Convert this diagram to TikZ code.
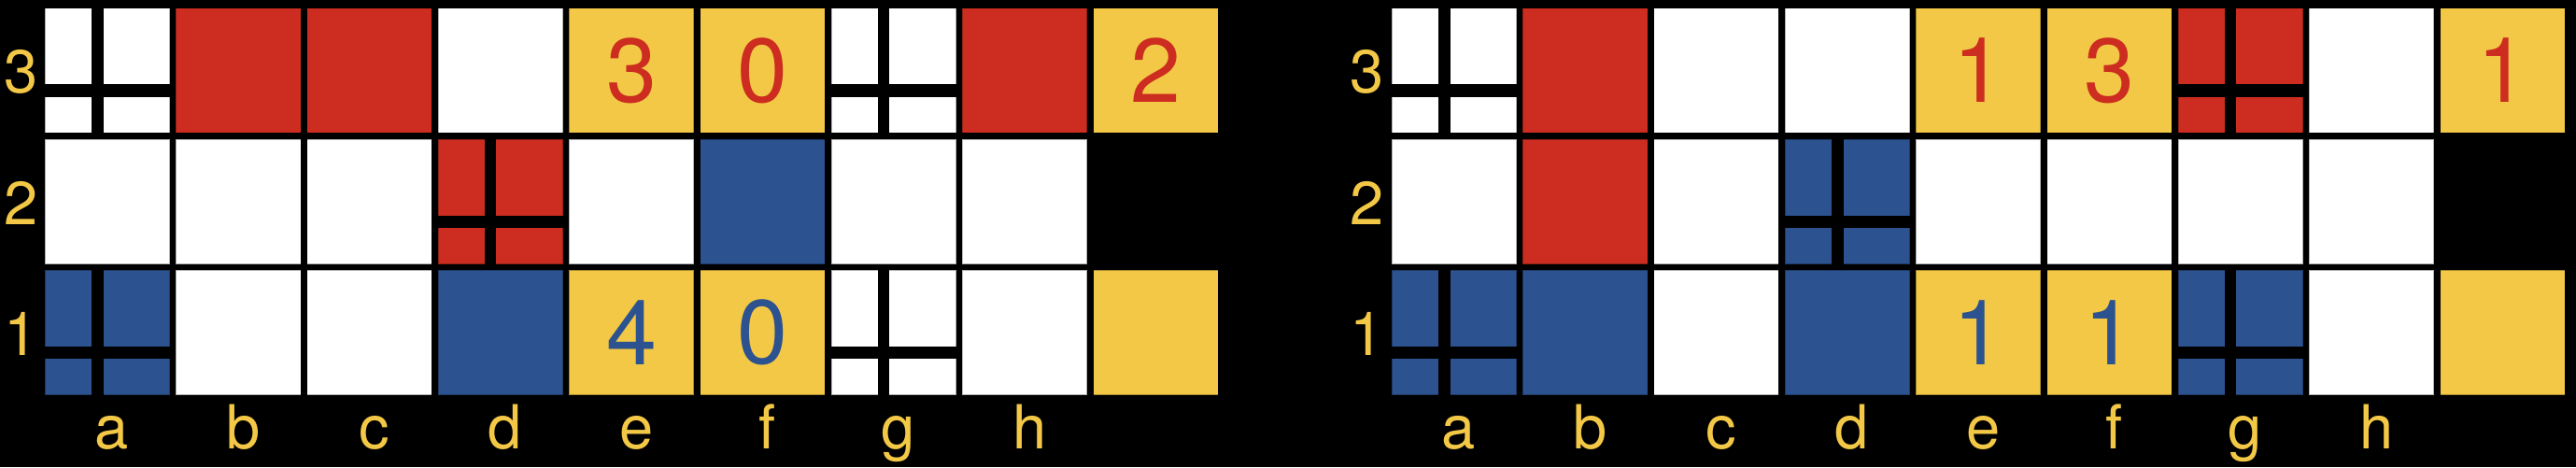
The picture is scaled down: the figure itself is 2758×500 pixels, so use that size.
\documentclass[tikz,border=0pt]{standalone}
\usepackage{fontspec}
\setmainfont{TeX Gyre Heros}
\definecolor{mred}{HTML}{CC2D20}
\definecolor{mblue}{HTML}{2C5290}
\definecolor{myellow}{HTML}{F3C846}

\begin{document}
\begin{tikzpicture}[x=0.01cm,y=-0.01cm]
        \tikzstyle{cell}=[rectangle,draw=black,draw opacity=0.3,line width=0.35pt,minimum size=1.336cm,inner sep=0pt,font=\fontsize{27.6}{30}\selectfont]
        \tikzstyle{wcell}=[fill=white]
        \tikzstyle{rcell}=[fill=mred]
        \tikzstyle{bcell}=[fill=mblue]
        \tikzstyle{yred}=[fill=myellow,text=mred]
        \tikzstyle{yblue}=[fill=myellow,text=mblue]
        \tikzstyle{lab}=[text=myellow,inner sep=0pt,font=\fontsize{18.5}{20}\selectfont]
          \fill [black] (0,0) rectangle (2758,500);
          \useasboundingbox (0,0) rectangle (2758,500);
          % left board
          \foreach \col/\i/\kind/\num in {a/0/wcell/{},b/1/rcell/{},c/2/rcell/{},d/3/wcell/{},e/4/yred/3,f/5/yred/0,g/6/wcell/{},h/7/rcell/{},i/8/yred/2}
            \node (L\col3) at (115+140.3*\i,75.5) [cell,\kind] {\num};
          \foreach \col/\i/\kind in {a/0/wcell,b/1/wcell,c/2/wcell,d/3/rcell,e/4/wcell,f/5/bcell,g/6/wcell,h/7/wcell}
            \node (L\col2) at (115+140.3*\i,215.8) [cell,\kind] {};
          \foreach \col/\i/\kind/\num in {a/0/bcell/{},b/1/wcell/{},c/2/wcell/{},d/3/bcell/{},e/4/yblue/4,f/5/yblue/0,g/6/wcell/{},h/7/wcell/{},i/8/yblue/{}}
            \node (L\col1) at (115+140.3*\i,356.1) [cell,\kind] {\num};
          % right board
          \foreach \col/\i/\kind/\num in {a/0/wcell/{},b/1/rcell/{},c/2/wcell/{},d/3/wcell/{},e/4/yred/1,f/5/yred/3,g/6/rcell/{},h/7/wcell/{},i/8/yred/1}
            \node (R\col3) at (1557+140.3*\i,75.5) [cell,\kind] {\num};
          \foreach \col/\i/\kind in {a/0/wcell,b/1/rcell,c/2/wcell,d/3/bcell,e/4/wcell,f/5/wcell,g/6/wcell,h/7/wcell}
            \node (R\col2) at (1557+140.3*\i,215.8) [cell,\kind] {};
          \foreach \col/\i/\kind/\num in {a/0/bcell/{},b/1/bcell/{},c/2/wcell/{},d/3/bcell/{},e/4/yblue/1,f/5/yblue/1,g/6/bcell/{},h/7/wcell/{},i/8/yblue/{}}
            \node (R\col1) at (1557+140.3*\i,356.1) [cell,\kind] {\num};
          % split cells
          \foreach \n in {La3,Lg3,Ld2,La1,Lg1,Ra3,Rg3,Rd2,Ra1,Rg1} {
            \fill [black] ([xshift=0.505cm]\n.north west) rectangle ([xshift=0.63cm]\n.south west);
            \fill [black] ([yshift=-0.823cm]\n.north west) rectangle ([yshift=-0.956cm]\n.north east);
          }
          % labels
          \foreach \col/\i in {a/0,b/1,c/2,d/3,e/4,f/5,g/6,h/7} {
            \node (LCol\col) at (120+140.3*\i,480) [lab,anchor=base] {\col};
            \node (RCol\col) at (1562+140.3*\i,480) [lab,anchor=base] {\col};
          }
          \foreach \r/\y in {3/77,2/217.3,1/357.6} {
            \node (LRow\r) at (23,\y) [lab] {\r};
            \node (RRow\r) at (1464,\y) [lab] {\r};
          }
      \end{tikzpicture}
\end{document}
